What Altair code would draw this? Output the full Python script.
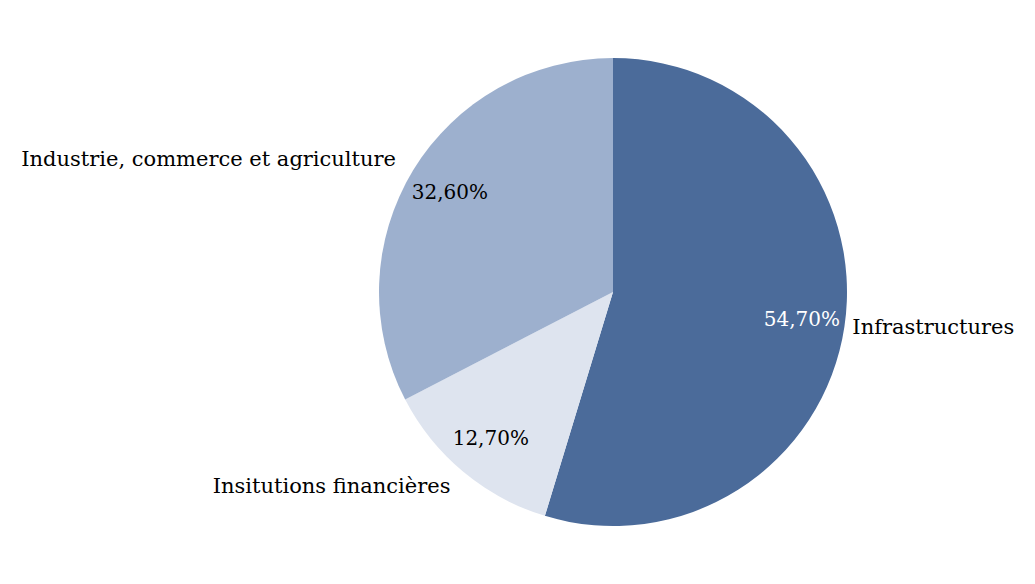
import altair as alt
import pandas as pd

categories = ["Infrastructures", "Insitutions financières", "Industrie, commerce et agriculture"]
values = [54.7, 12.7, 32.6]
pct_labels = ["54,70%", "12,70%", "32,60%"]
order = [0, 1, 2]

df = pd.DataFrame({"cat": categories, "value": values, "pct": pct_labels, "idx": order})

colors = ["#4B6B9A", "#DEE4EF", "#9DB0CE"]
FONT = "DejaVu Serif"
FS = 21

base = alt.Chart(df).encode(
    theta=alt.Theta("value:Q", stack=True),
    order=alt.Order("idx:Q"),
)

arcs = base.mark_arc(outerRadius=234, stroke=None).encode(
    color=alt.Color("cat:N", scale=alt.Scale(domain=categories, range=colors), legend=None)
)

pcts = base.mark_text(radius=191, font=FONT, fontSize=20, align="center", baseline="middle").encode(
    text="pct:N",
    color=alt.condition(alt.datum.cat == "Infrastructures", alt.value("white"), alt.value("black")),
)

lbl_left = base.transform_calculate(
    t="datum.cat == 'Infrastructures' ? datum.cat : ''"
).mark_text(radius=242, font=FONT, fontSize=FS, align="left", baseline="middle", color="black").encode(
    text="t:N"
)

lbl_right = base.transform_calculate(
    t="datum.cat != 'Infrastructures' ? datum.cat : ''"
).mark_text(radius=254, font=FONT, fontSize=FS, align="right", baseline="middle", color="black").encode(
    text="t:N"
)

chart = alt.layer(arcs, pcts, lbl_left, lbl_right).properties(
    width=1019, height=568, padding=0, autosize=alt.AutoSizeParams(type="none")
).configure_view(stroke=None)

chart = chart.encode(x=alt.value(605), y=alt.value(284))

chart.save("out.html", embed_options={"renderer": "svg", "actions": False})
